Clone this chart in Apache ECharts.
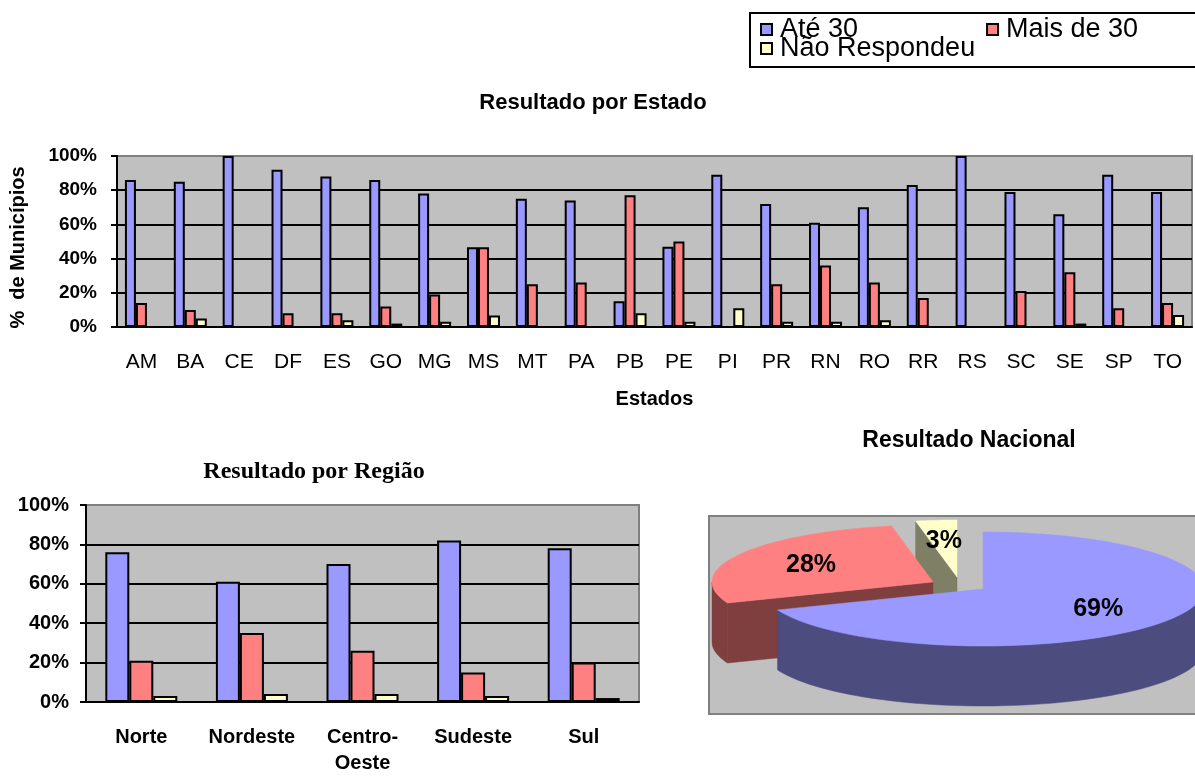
<!DOCTYPE html>
<html>
<head>
<meta charset="utf-8">
<script src="https://cdn.jsdelivr.net/npm/echarts@6/dist/echarts.min.js"></script>
<style>
  html, body { margin: 0; padding: 0; background: #fff; }
  #chart { width: 1195px; height: 776px; }
</style>
</head>
<body>
<div id="chart"></div>
<script>
// valores (%)
var estados = ['AM', 'BA', 'CE', 'DF', 'ES', 'GO', 'MG', 'MS', 'MT', 'PA', 'PB', 'PE', 'PI', 'PR', 'RN', 'RO', 'RR', 'RS', 'SC', 'SE', 'SP', 'TO'];
var estadoAte30 = [86, 85, 100, 92, 88, 86, 78, 46.7, 75, 74, 15, 47, 89, 72, 61, 70, 83, 100, 79, 66, 89, 79];
var estadoMais30 = [14, 10, 0, 8, 8, 12, 19, 46.7, 25, 26, 77, 50, 0, 25, 36, 26, 17, 0, 21, 32, 11, 14];
var estadoNaoResp = [0, 5, 0, 0, 4, 2, 3, 6.7, 0, 0, 8, 3, 11, 3, 3, 4, 0, 0, 0, 2, 0, 7];

var regioes = ['Norte', 'Nordeste', 'Centro-\nOeste', 'Sudeste', 'Sul'];
var regiaoAte30 = [76, 61, 70, 82, 78];
var regiaoMais30 = [21, 35, 26, 15, 20];
var regiaoNaoResp = [3, 4, 4, 3, 2];

var nomesSerie = ['Até 30', 'Mais de 30', 'Não Respondeu'];
var nacional = [69, 28, 3];

var yMin = 0, yMax = 100, yStep = 20;

// estilo
var cores = ['#9999ff', '#ff8080', '#ffffcc'];
var coresLado = ['#4c4c7f', '#7f3f3f', '#7f7f66'];
var sans = "'Liberation Sans', Arial, sans-serif";
var serif = "'Liberation Serif', 'Times New Roman', serif";

// pizza 3D (geometria de desenho)
var pie = { cx: 983, cy: 589, rx: 221, ry: 57, depth: 60 };
var explode = [[0, 0], [-50, -7], [-26, -12]];
var ordem = [30, 20, 10];

var chart = echarts.init(document.getElementById('chart'));

function yAxis(grid, size, margin, extra) {
  return Object.assign({
    type: 'value', gridIndex: grid, min: yMin, max: yMax, interval: yStep,
    axisLine: { show: true, lineStyle: { color: '#000', width: 2 } },
    axisTick: { show: true, length: 6, lineStyle: { color: '#000', width: 2 } },
    axisLabel: { formatter: '{value}%', color: '#000', fontWeight: 'bold', fontSize: size, fontFamily: sans, margin: margin },
    splitLine: { show: true, showMaxLine: false, lineStyle: { color: '#000', width: 2 } }
  }, extra || {});
}

function barras(grid, dados, largura) {
  return dados.map(function (d, i) {
    return {
      type: 'bar', name: nomesSerie[i], data: d,
      xAxisIndex: grid, yAxisIndex: grid,
      barWidth: largura, barGap: '0%',
      itemStyle: { color: cores[i], borderColor: '#000', borderWidth: 2 },
      emphasis: { disabled: true },
      animation: false
    };
  });
}

function ponto(a, off, dy) {
  var r = a * Math.PI / 180;
  return [pie.cx + off[0] + pie.rx * Math.sin(r), pie.cy + off[1] - pie.ry * Math.cos(r) + (dy || 0)];
}

function arco(a1, a2, off, dy) {
  var pts = [];
  var n = Math.max(2, Math.ceil(Math.abs(a2 - a1) / 2));
  for (var k = 0; k <= n; k++) pts.push(ponto(a1 + (a2 - a1) * k / n, off, dy));
  return pts;
}

function fatia(params, api) {
  var i = params.dataIndex;
  var total = nacional.reduce(function (s, v) { return s + v; }, 0);
  var antes = 0;
  for (var k = 0; k < i; k++) antes += nacional[k];
  var v = api.value(0);
  var a1 = antes / total * 360, a2 = (antes + v) / total * 360;
  var off = explode[i];
  var apex = [pie.cx + off[0], pie.cy + off[1]];
  var apexB = [apex[0], apex[1] + pie.depth];
  var z = ordem[i];
  var kids = [];
  var lado = { fill: coresLado[i], stroke: coresLado[i], lineWidth: 0.5 };

  // parede externa (parte frontal)
  var w1 = Math.max(a1, 90), w2 = Math.min(a2, 270);
  if (w2 > w1) {
    var topo = arco(w1, w2, off, 0);
    var base = arco(w1, w2, off, pie.depth).reverse();
    kids.push({ type: 'polygon', z2: z, shape: { points: topo.concat(base) }, style: lado });
  }
  // faces radiais visíveis
  var r1 = a1 * Math.PI / 180, r2 = a2 * Math.PI / 180;
  if (Math.sin(r1) < -1e-6) {
    var p = ponto(a1, off, 0);
    kids.push({ type: 'polygon', z2: z, shape: { points: [apex, p, [p[0], p[1] + pie.depth], apexB] }, style: lado });
  }
  if (Math.sin(r2) > 1e-6) {
    var q = ponto(a2, off, 0);
    kids.push({ type: 'polygon', z2: z, shape: { points: [apex, q, [q[0], q[1] + pie.depth], apexB] }, style: lado });
  }
  // topo
  kids.push({
    type: 'polygon', z2: z + 1,
    shape: { points: [apex].concat(arco(a1, a2, off, 0)) },
    style: { fill: cores[i], stroke: cores[i], lineWidth: 0.5 }
  });
  // rótulo
  var am = (a1 + a2) / 2 * Math.PI / 180;
  kids.push({
    type: 'text', z2: 100,
    x: apex[0] + 0.63 * pie.rx * Math.sin(am),
    y: apex[1] - 0.63 * pie.ry * Math.cos(am),
    style: {
      text: Math.round(v / total * 100) + '%',
      fill: '#000', align: 'center', verticalAlign: 'middle',
      font: 'bold 25px ' + sans
    }
  });
  return { type: 'group', children: kids };
}

var legendaBase = {
  icon: 'rect', itemWidth: 11, itemHeight: 11, padding: 0, selectedMode: false,
  itemStyle: { borderColor: '#000', borderWidth: 2 },
  textStyle: { fontSize: 27, fontFamily: sans, color: '#000', padding: [0, 0, 0, 3] }
};

var option = {
  backgroundColor: '#fff',
  animation: false,
  title: [
    { text: 'Resultado por Estado', left: 593, top: 103, textAlign: 'center', textVerticalAlign: 'middle', padding: 0,
      textStyle: { fontSize: 22, fontWeight: 'bold', fontFamily: sans, color: '#000' } },
    { text: 'Resultado por Região', left: 314, top: 472, textAlign: 'center', textVerticalAlign: 'middle', padding: 0,
      textStyle: { fontSize: 24, fontWeight: 'bold', fontFamily: serif, color: '#000' } },
    { text: 'Resultado Nacional', left: 969, top: 441, textAlign: 'center', textVerticalAlign: 'middle', padding: 0,
      textStyle: { fontSize: 23, fontWeight: 'bold', fontFamily: sans, color: '#000' } }
  ],
  legend: [
    Object.assign({}, legendaBase, { data: [nomesSerie[0], nomesSerie[1]], left: 760, top: 16, itemGap: 128 }),
    Object.assign({}, legendaBase, { data: [nomesSerie[2]], left: 760, top: 35 })
  ],
  graphic: [
    { type: 'rect', left: 749, top: 12, z: 0, shape: { width: 520, height: 54 },
      style: { fill: '#fff', stroke: '#000', lineWidth: 2 } },
    { type: 'rect', left: 708, top: 515, z: 0, shape: { width: 520, height: 198 },
      style: { fill: '#c0c0c0', stroke: '#808080', lineWidth: 2 } }
  ],
  grid: [
    { left: 117, right: 3, top: 156, bottom: 449, show: true, backgroundColor: '#c0c0c0', borderColor: '#808080', borderWidth: 2 },
    { left: 86, right: 556, top: 505, bottom: 72, show: true, backgroundColor: '#c0c0c0', borderColor: '#808080', borderWidth: 2 }
  ],
  xAxis: [
    {
      type: 'category', gridIndex: 0, data: estados,
      axisLine: { lineStyle: { color: '#000', width: 2 } },
      axisTick: { length: 6, lineStyle: { color: '#000', width: 2 } },
      axisLabel: { interval: 0, color: '#000', fontSize: 21, fontFamily: sans, margin: 25 },
      name: 'Estados', nameLocation: 'middle', nameGap: 62,
      nameTextStyle: { color: '#000', fontSize: 20, fontWeight: 'bold', fontFamily: sans }
    },
    {
      type: 'category', gridIndex: 1, data: regioes,
      axisLine: { lineStyle: { color: '#000', width: 2 } },
      axisTick: { length: 6, lineStyle: { color: '#000', width: 2 } },
      axisLabel: { interval: 0, color: '#000', fontSize: 20, fontWeight: 'bold', fontFamily: sans, margin: 22, lineHeight: 26 }
    }
  ],
  yAxis: [
    yAxis(0, 19, 20, {
      name: '%  de Municípios', nameLocation: 'middle', nameGap: 89, nameRotate: 90,
      nameTextStyle: { color: '#000', fontSize: 20, fontWeight: 'bold', fontFamily: sans, padding: [0, 12, 0, 0] }
    }),
    yAxis(1, 20, 17)
  ],
  series: barras(0, [estadoAte30, estadoMais30, estadoNaoResp], 11)
    .concat(barras(1, [regiaoAte30, regiaoMais30, regiaoNaoResp], 24))
    .concat([{
      type: 'custom', name: 'Resultado Nacional', coordinateSystem: 'none',
      data: nacional, silent: true, animation: false,
      renderItem: fatia
    }])
};

chart.setOption(option);
</script>
</body>
</html>
